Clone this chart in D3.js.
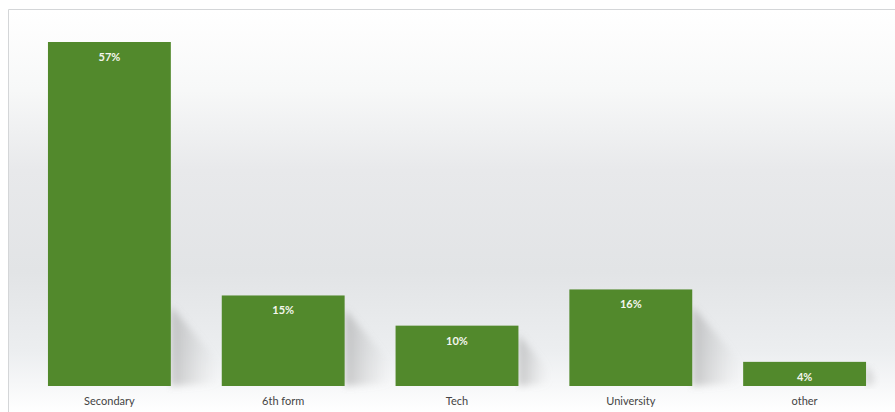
<!DOCTYPE html>
<html><head><meta charset="utf-8">
<script src="https://cdn.jsdelivr.net/npm/d3@7"></script>
<style>body{margin:0;background:#fff}svg{display:block}</style>
</head><body>
<script>
const categories = ["Secondary", "6th form", "Tech", "University", "other"];
const values = [57, 15, 10, 16, 4];
const valueLabels = ["57%", "15%", "10%", "16%", "4%"];

const W = 895, H = 412;
const svg = d3.select("body").append("svg").attr("width", W).attr("height", H);
const defs = svg.append("defs");

const bg = defs.append("linearGradient").attr("id","bg").attr("x1",0).attr("y1",0).attr("x2",0).attr("y2",1);
[[0,"#ffffff"],[0.2,"#f7f8f8"],[0.4,"#e8e9eb"],[0.65,"#e2e4e6"],[0.85,"#eceef0"],[0.93,"#f6f7f8"],[1,"#ffffff"]]
  .forEach(([o,c])=>bg.append("stop").attr("offset",o).attr("stop-color",c));
const sh = defs.append("linearGradient").attr("id","sh").attr("x1",0).attr("y1",0).attr("x2",1).attr("y2",0);
sh.append("stop").attr("offset",0).attr("stop-color","#8a8a8a").attr("stop-opacity",0.45);
sh.append("stop").attr("offset",1).attr("stop-color","#bbb").attr("stop-opacity",0);
defs.append("filter").attr("id","blur").append("feGaussianBlur").attr("stdDeviation",3.5);

svg.append("rect").attr("x",9).attr("y",10).attr("width",W-9).attr("height",H-10).attr("fill","url(#bg)");
svg.append("path").attr("d",`M8.5,${H} V9.5 H${W}`).attr("fill","none").attr("stroke","#d4d6d8").attr("stroke-width",1);

const x = d3.scaleBand().domain(categories).range([22.5, 891.5]).paddingInner(0.293).paddingOuter(0.1465);
const y = d3.scaleLinear().domain([0, 57]).range([386, 42]);

const g = svg.append("g");
g.selectAll("path.sh").data(categories).join("path")
  .attr("class","sh")
  .attr("d",(c,i)=>{
    const x1 = x(c)+x.bandwidth(), yb = y(0);
    const h = Math.min((yb - y(values[i]))*0.85, 80);
    const w = Math.min(h*0.6, 48);
    return `M${x1},${yb-h} L${x1+w},${yb-h*0.3} L${x1+w},${yb-3} L${x1},${yb}Z`;
  })
  .attr("fill","url(#sh)").attr("filter","url(#blur)");

g.selectAll("rect.bar").data(categories).join("rect")
  .attr("class","bar")
  .attr("x",c=>x(c)).attr("width",x.bandwidth())
  .attr("y",(c,i)=>y(values[i])).attr("height",(c,i)=>y(0)-y(values[i]))
  .attr("fill","#52892c");

g.selectAll("text.val").data(categories).join("text")
  .attr("class","val")
  .attr("x",c=>x(c)+x.bandwidth()/2)
  .attr("y",(c,i)=>y(values[i])+19)
  .attr("text-anchor","middle")
  .attr("font-family","Lato, 'Open Sans', sans-serif").attr("font-weight","bold").attr("font-size",11)
  .attr("fill","#f4f6ee")
  .text((c,i)=>valueLabels[i]);

const xAxis = d3.axisBottom(x).tickSize(0).tickPadding(0);
const ax = svg.append("g").attr("transform",`translate(0,${y(0)+19})`).call(xAxis);
ax.select(".domain").remove();
ax.selectAll("text").attr("font-family","Lato, 'Open Sans', sans-serif").attr("font-size",11).attr("fill","#444").attr("dy",0);
</script>
</body></html>
